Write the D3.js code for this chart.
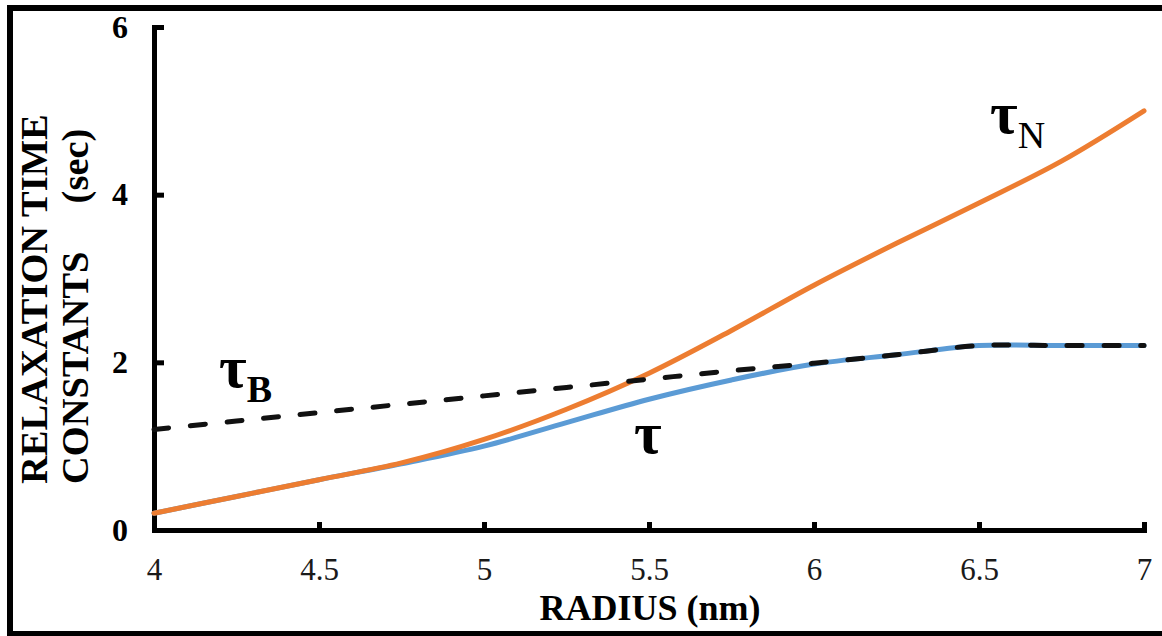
<!DOCTYPE html>
<html>
<head>
<meta charset="utf-8">
<script src="https://cdn.jsdelivr.net/npm/d3@7"></script>
<style>
  html, body { margin: 0; padding: 0; background: #fff; }
  svg { display: block; }
  text { font-family: "Liberation Serif", "Times New Roman", serif; }
</style>
</head>
<body>
<svg id="chart" width="1162" height="636"></svg>
<script>
// ---- data ----
const radius = [4, 4.25, 4.5, 4.75, 5, 5.25, 5.5, 5.75, 6, 6.25, 6.5, 6.75, 7];
const tauValues  = [0.2, 0.4, 0.6, 0.79, 1.0, 1.28, 1.56, 1.79, 1.98, 2.09, 2.2, 2.2, 2.2];
const tauNValues = [0.2, 0.4, 0.6, 0.8, 1.08, 1.44, 1.87, 2.38, 2.92, 3.42, 3.9, 4.4, 5.0];
const tauBValues = [1.2, 1.3, 1.4, 1.5, 1.6, 1.7, 1.8, 1.9, 1.99, 2.09, 2.2, 2.2, 2.2];
const xTicks = [4, 4.5, 5, 5.5, 6, 6.5, 7];
const yTicks = [0, 2, 4, 6];
const xTitle = "RADIUS (nm)";
const yTitleLines = ["RELAXATION TIME", "CONSTANTS     (sec)"];

const svg = d3.select("#chart");
const W = 1162, H = 636;

// outer frame
svg.append("rect")
  .attr("x", 10).attr("y", 8)
  .attr("width", W + 20).attr("height", H - 10)
  .attr("fill", "none").attr("stroke", "#000").attr("stroke-width", 6);

const x = d3.scaleLinear().domain([4, 7]).range([154, 1144]);
const y = d3.scaleLinear().domain([0, 6]).range([530, 27]);

// axes
const xAxis = d3.axisBottom(x).tickValues(xTicks).tickFormat(d3.format("")).tickSizeInner(-8).tickSizeOuter(0).tickPadding(28);
const yAxis = d3.axisLeft(y).tickValues(yTicks).tickFormat(d3.format("")).tickSizeInner(-10).tickSizeOuter(0).tickPadding(26);

const gx = svg.append("g").attr("transform", `translate(0,${y(0)})`).call(xAxis);
const gy = svg.append("g").attr("transform", `translate(${x(4)},0)`).call(yAxis);

[gx, gy].forEach(g => {
  g.select(".domain").attr("stroke", "#000").attr("stroke-width", 5).attr("stroke-linecap", "square");
  g.selectAll(".tick line").attr("stroke", "#000").attr("stroke-width", 5);
});
gx.selectAll(".tick text")
  .attr("fill", "#1a1a1a").style("font-size", "31px").style("font-family", "'Liberation Serif', serif");
gy.selectAll(".tick text")
  .attr("fill", "#000").style("font-size", "32px").style("font-weight", "bold").style("font-family", "'Liberation Serif', serif");

// lines
const pts = vals => radius.map((r, i) => [r, vals[i]]);
const line = d3.line().x(d => x(d[0])).y(d => y(d[1])).curve(d3.curveCatmullRom.alpha(0.5));

svg.append("path").datum(pts(tauValues))
  .attr("d", line).attr("fill", "none").attr("stroke", "#5B9BD5").attr("stroke-width", 5).attr("stroke-linecap", "round");
svg.append("path").datum(pts(tauNValues))
  .attr("d", line).attr("fill", "none").attr("stroke", "#ED7D31").attr("stroke-width", 5).attr("stroke-linecap", "round");
svg.append("path").datum(pts(tauBValues))
  .attr("d", line).attr("fill", "none").attr("stroke", "#111").attr("stroke-width", 5)
  .attr("stroke-dasharray", "15,21.7").attr("stroke-linecap", "round");

// axis titles
svg.append("text")
  .attr("x", x(5.5) + 1).attr("y", 620)
  .attr("text-anchor", "middle")
  .style("font-size", "36px").style("font-weight", "bold")
  .text(xTitle);

const yt = svg.append("text")
  .attr("transform", "translate(47,484) rotate(-90)")
  .attr("text-anchor", "start")
  .style("font-size", "38.5px").style("font-weight", "bold")
  .style("white-space", "pre");
yt.append("tspan").attr("x", 0).attr("y", 0).text(yTitleLines[0]);
yt.append("tspan").attr("x", 0).attr("y", 41).text(yTitleLines[1]);

// series labels
function tauLabel(px, py, sub, subBold) {
  const t = svg.append("text").attr("x", px).attr("y", py);
  t.append("tspan").style("font-size", "60px").style("font-weight", "bold").text("τ");
  if (sub) {
    t.append("tspan").attr("dy", 15).style("font-size", "38px")
      .style("font-weight", subBold ? "bold" : "normal").text(sub);
  }
}
tauLabel(219, 387, "B", true);
tauLabel(990, 133, "N", false);
tauLabel(634, 453, null, true);
</script>
</body>
</html>
